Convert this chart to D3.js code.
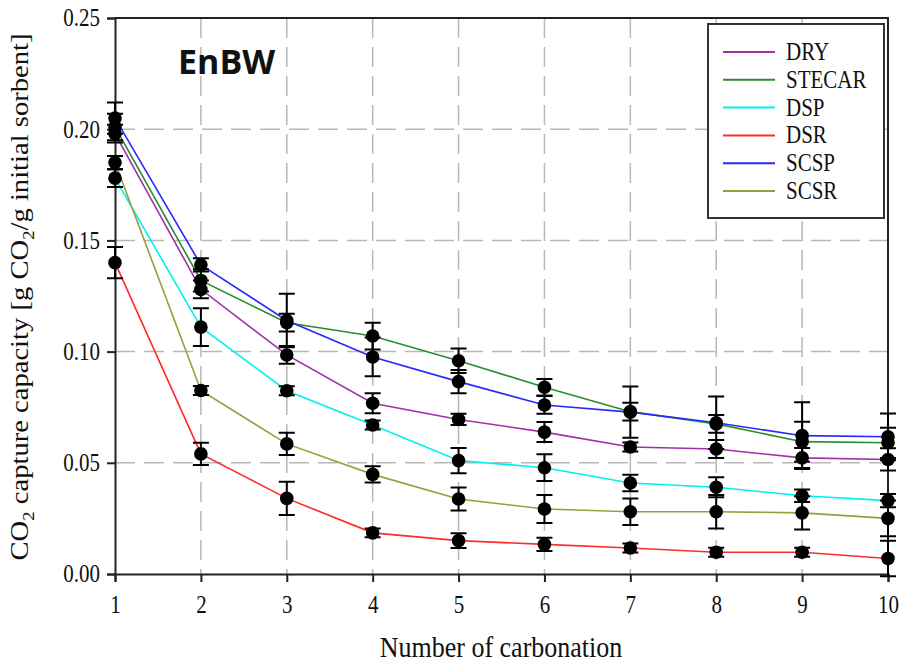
<html lang="en"><head>
<meta charset="utf-8">
<style>
body { margin: 0; background: #fff; }
text { font-family: "Liberation Serif", "Times New Roman", serif; fill: #111; }
.grid line { stroke: #b8b8b8; stroke-width: 1.5; stroke-dasharray: 20,9; }
</style>
<script src="https://d3js.org/d3.v7.min.js"></script>
</head><body>
<div id="chart"></div>
<script>
// cycle number 1..10
var cycles = [1, 2, 3, 4, 5, 6, 7, 8, 9, 10];
var seriesNames = ["DRY", "STECAR", "DSP", "DSR", "SCSP", "SCSR"];
var seriesColors = ["#a030a8", "#2a8c2a", "#00f0f0", "#ff2a2a", "#2828ff", "#9c9c3c"];

// CO2 capture capacity
var dry    = [0.198, 0.128, 0.0985, 0.0768, 0.0695, 0.0638, 0.0571, 0.0562, 0.0522, 0.0515];
var stecar = [0.201, 0.132, 0.113, 0.107, 0.0959, 0.084, 0.073, 0.0675, 0.0595, 0.059];
var dsp    = [0.178, 0.111, 0.0824, 0.067, 0.051, 0.0478, 0.0409, 0.039, 0.0352, 0.033];
var dsr    = [0.140, 0.054, 0.034, 0.0185, 0.015, 0.0133, 0.0117, 0.0098, 0.0098, 0.007];
var scsp   = [0.205, 0.139, 0.114, 0.0976, 0.0865, 0.076, 0.0728, 0.068, 0.0622, 0.0617];
var scsr   = [0.185, 0.0825, 0.0585, 0.0448, 0.0337, 0.0292, 0.028, 0.028, 0.0275, 0.025];

// error bar half widths
var dryErr    = [0.004, 0.004, 0.004, 0.0045, 0.0025, 0.0045, 0.002, 0.004, 0.0045, 0.005];
var stecarErr = [0.006, 0.005, 0.004, 0.006, 0.0055, 0.0037, 0.004, 0.004, 0.009, 0.0068];
var dspErr    = [0.004, 0.0085, 0.002, 0.002, 0.0057, 0.006, 0.0037, 0.0045, 0.0028, 0.003];
var dsrErr    = [0.007, 0.005, 0.0075, 0.002, 0.0033, 0.003, 0.002, 0.002, 0.002, 0.008];
var scspErr   = [0.007, 0.003, 0.012, 0.0087, 0.0052, 0.004, 0.0115, 0.0118, 0.015, 0.0105];
var scsrErr   = [0.003, 0.002, 0.005, 0.0037, 0.0052, 0.0063, 0.006, 0.0075, 0.0075, 0.008];

var yTicks = [0, 0.05, 0.10, 0.15, 0.20, 0.25];

var values = [dry, stecar, dsp, dsr, scsp, scsr];
var errors = [dryErr, stecarErr, dspErr, dsrErr, scspErr, scsrErr];

var margin = { top: 18, right: 11, bottom: 91, left: 115 };
var width = 899 - margin.left - margin.right,
    height = 665 - margin.top - margin.bottom;

var root = d3.select("#chart").append("svg")
    .attr("width", 899)
    .attr("height", 665);

var svg = root.append("g")
    .attr("transform", "translate(" + margin.left + "," + margin.top + ")");

var x = d3.scaleLinear().domain([1, 10]).range([0, width]);
var y = d3.scaleLinear().domain([0, 0.25]).range([height, 0]);

// dashed grid
var grid = svg.append("g").attr("class", "grid");
grid.selectAll(".vx")
    .data(cycles.slice(1, 9))
    .join("line")
    .attr("x1", d => x(d)).attr("x2", d => x(d))
    .attr("y1", 0).attr("y2", height);
grid.selectAll(".hy")
    .data(yTicks.slice(1, 5))
    .join("line")
    .attr("x1", 0).attr("x2", width)
    .attr("y1", d => y(d)).attr("y2", d => y(d));

// axes (labels stretched a bit vertically like the scanned figure)
var xAxis = svg.append("g")
    .attr("transform", "translate(0," + height + ")")
    .call(d3.axisBottom(x).tickValues(cycles).tickFormat(d3.format("d")).tickSize(8).tickPadding(10));
var yAxis = svg.append("g")
    .call(d3.axisLeft(y).tickValues(yTicks).tickFormat(d3.format(".2f")).tickSize(8).tickPadding(7));

[xAxis, yAxis].forEach(function (g) {
    g.select(".domain").attr("stroke", "#222").attr("stroke-width", 2);
    g.selectAll(".tick line").attr("stroke", "#222").attr("stroke-width", 2);
    g.selectAll(".tick text")
        .attr("fill", "#111")
        .attr("transform", "scale(1,1.18)")
        .style("font-family", "'Liberation Serif', serif")
        .style("font-size", "21px");
});

// top and right frame
svg.append("path")
    .attr("d", "M0,0H" + width + "V" + height)
    .attr("fill", "none")
    .attr("stroke", "#222")
    .attr("stroke-width", 2);

// series lines
var line = d3.line()
    .x((d, i) => x(cycles[i]))
    .y(d => y(d));

values.forEach(function (vals, s) {
    svg.append("path")
        .datum(vals)
        .attr("fill", "none")
        .attr("stroke", seriesColors[s])
        .attr("stroke-width", 1.6)
        .attr("d", line);
});

// error bars and markers
values.forEach(function (vals, s) {
    var g = svg.append("g").attr("stroke", "#000").attr("stroke-width", 2);
    var pts = vals.map((v, i) => ({ c: cycles[i], v: v, e: errors[s][i] }));
    g.selectAll(".eb")
        .data(pts)
        .join("path")
        .attr("fill", "none")
        .attr("d", function (d) {
            var cx = x(d.c), t = y(d.v + d.e), b = y(d.v - d.e);
            return "M" + cx + "," + t + "V" + b +
                "M" + (cx - 8) + "," + t + "H" + (cx + 8) +
                "M" + (cx - 8) + "," + b + "H" + (cx + 8);
        });
    svg.append("g").selectAll("circle")
        .data(pts)
        .join("circle")
        .attr("cx", d => x(d.c))
        .attr("cy", d => y(d.v))
        .attr("r", 6.8)
        .attr("fill", "#000");
});

// legend
var legend = root.append("g").attr("transform", "translate(708,24)");
legend.append("rect")
    .attr("width", 176).attr("height", 194)
    .attr("fill", "#fff")
    .attr("stroke", "#333")
    .attr("stroke-width", 2);
seriesNames.forEach(function (name, i) {
    var ly = 28 + i * 27.8;
    legend.append("line")
        .attr("x1", 15).attr("x2", 67)
        .attr("y1", ly).attr("y2", ly)
        .attr("stroke", seriesColors[i])
        .attr("stroke-width", 2);
    legend.append("text")
        .attr("transform", "translate(78," + (ly + 8) + ") scale(1,1.18)")
        .style("font-size", "21px")
        .text(name);
});

// EnBW label
root.append("text")
    .attr("x", 178).attr("y", 74)
    .style("font-family", "'Open Sans', sans-serif")
    .style("font-weight", "700")
    .style("font-size", "34px")
    .attr("fill", "#000")
    .text("EnBW");

// axis titles
root.append("text")
    .attr("transform", "translate(501,657) scale(1,1.1)")
    .attr("text-anchor", "middle")
    .style("font-size", "26px")
    .text("Number of carbonation");

var yl = root.append("text")
    .attr("transform", "translate(28,297) rotate(-90) scale(1.1,1)")
    .attr("text-anchor", "middle")
    .style("font-size", "26px");
yl.append("tspan").text("CO");
yl.append("tspan").attr("dy", 6).style("font-size", "17px").text("2");
yl.append("tspan").attr("dy", -6).text(" capture capacity [g CO");
yl.append("tspan").attr("dy", 6).style("font-size", "17px").text("2");
yl.append("tspan").attr("dy", -6).text("/g initial sorbent]");
</script>
</body></html>
